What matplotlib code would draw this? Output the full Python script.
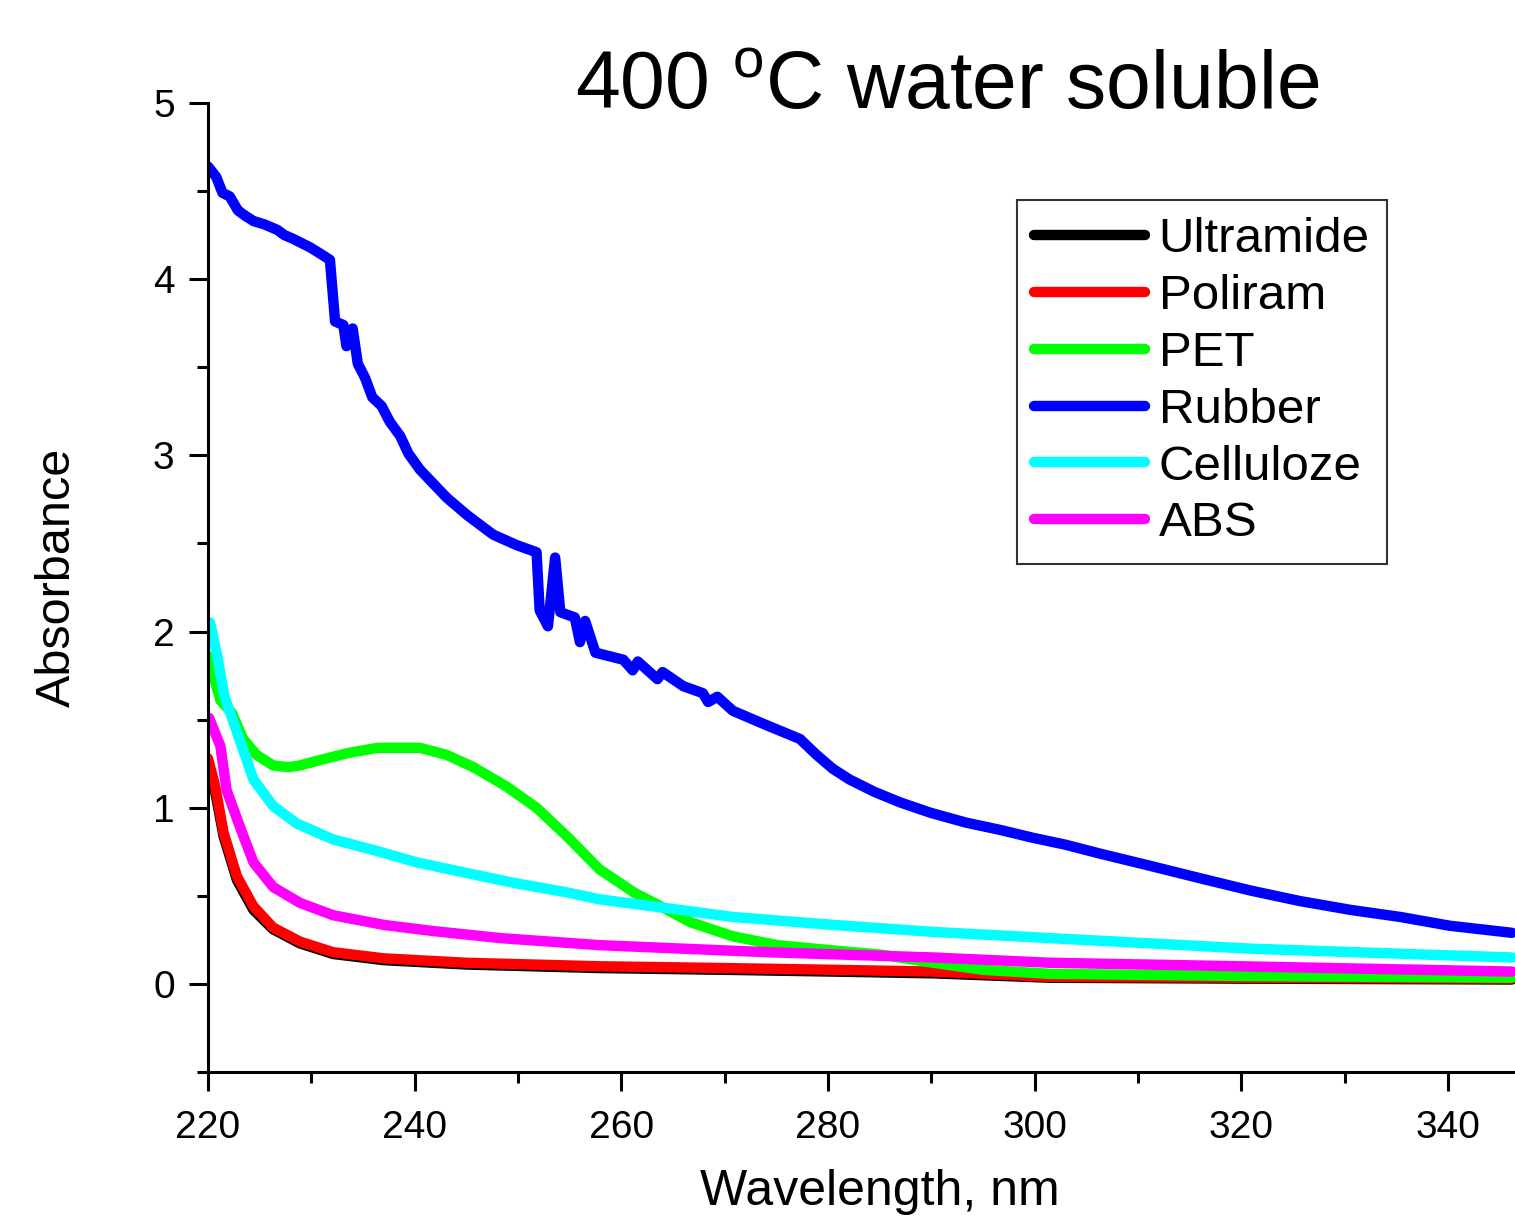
import matplotlib.pyplot as plt
from matplotlib.ticker import MultipleLocator

plt.rcParams['font.family'] = ['Liberation Sans', 'DejaVu Sans']

# ---- data ----
labels = ['Ultramide', 'Poliram', 'PET', 'Rubber', 'Celluloze', 'ABS']
colors = ['#000000', '#ff0000', '#00ff00', '#0000ff', '#00ffff', '#ff00ff']

wl_ultramide = [220.0, 220.7, 221.5, 222.8, 224.4, 226.3, 228.9, 232.1, 237.0, 245.0, 257.9, 270.0, 280.5, 290.2, 301.5, 320.0, 346.2]
ab_ultramide = [1.24, 1.09, 0.84, 0.59, 0.42, 0.31, 0.23, 0.17, 0.135, 0.11, 0.09, 0.08, 0.07, 0.06, 0.035, 0.03, 0.025]

wl_poliram = [220.0, 220.7, 221.5, 222.8, 224.4, 226.3, 228.9, 232.1, 237.0, 245.0, 257.9, 270.0, 280.5, 290.2, 301.5, 320.0, 346.2]
ab_poliram = [1.28, 1.12, 0.86, 0.61, 0.44, 0.32, 0.24, 0.18, 0.145, 0.12, 0.10, 0.09, 0.08, 0.07, 0.04, 0.035, 0.03]

wl_pet = [220.0, 221.2, 222.3, 223.4, 224.7, 226.3, 227.8, 228.9, 230.8, 233.5, 236.4, 238.6, 240.5, 243.1,
          245.7, 248.9, 251.8, 254.7, 257.9, 261.2, 263.5, 266.7, 270.8, 275.1, 280.5, 285.3, 290.2, 295.0,
          301.5, 320.0, 346.2]
ab_pet = [1.86, 1.61, 1.54, 1.39, 1.30, 1.24, 1.23, 1.24, 1.27, 1.31, 1.34, 1.34, 1.34, 1.30,
          1.23, 1.12, 1.00, 0.84, 0.65, 0.52, 0.45, 0.35, 0.27, 0.22, 0.19, 0.165, 0.12, 0.08,
          0.057, 0.045, 0.035]

wl_rubber = [220.0, 220.8, 221.4, 222.1, 222.9, 223.6, 224.4, 225.5, 226.7, 227.4, 228.2, 229.9, 231.0, 231.8,
             232.3, 233.1, 233.4, 234.0, 234.5, 235.2, 235.9, 236.8, 237.6, 238.6, 239.4, 240.5, 241.8, 243.1,
             245.1, 247.6, 249.9, 251.8, 252.1, 252.9, 253.6, 254.1, 255.5, 256.0, 256.5, 257.5, 260.2, 261.1,
             261.6, 263.5, 264.0, 266.0, 267.9, 268.4, 269.3, 270.8, 274.0, 277.3, 278.9, 280.5, 282.1, 284.5,
             287.0, 290.0, 293.4, 296.6, 299.8, 303.0, 306.3, 311.2, 316.0, 320.9, 325.7, 330.6, 335.4, 340.2, 346.2]
ab_rubber = [4.64, 4.58, 4.49, 4.47, 4.39, 4.36, 4.33, 4.31, 4.28, 4.25, 4.23, 4.18, 4.14, 4.11,
             3.76, 3.74, 3.62, 3.72, 3.52, 3.44, 3.33, 3.28, 3.19, 3.11, 3.01, 2.92, 2.84, 2.76,
             2.66, 2.55, 2.49, 2.45, 2.12, 2.03, 2.42, 2.11, 2.08, 1.94, 2.06, 1.88, 1.84, 1.78,
             1.83, 1.73, 1.77, 1.69, 1.65, 1.60, 1.63, 1.55, 1.47, 1.39, 1.30, 1.22, 1.16, 1.09,
             1.03, 0.97, 0.915, 0.875, 0.83, 0.79, 0.74, 0.67, 0.60, 0.53, 0.47, 0.42, 0.38, 0.33, 0.29]

wl_cellul = [220.2, 220.9, 221.6, 222.8, 224.4, 226.3, 228.6, 232.1, 236.0, 240.2, 245.0, 249.9, 254.7, 257.9,
             264.4, 270.8, 280.5, 290.2, 301.5, 320.9, 346.2]
ab_cellul = [2.05, 1.86, 1.63, 1.43, 1.16, 1.01, 0.91, 0.82, 0.76, 0.69, 0.63, 0.57, 0.52, 0.48,
             0.43, 0.38, 0.335, 0.295, 0.26, 0.20, 0.15]

wl_abs = [220.1, 221.2, 221.8, 223.1, 224.4, 226.3, 228.9, 232.1, 237.0, 241.8, 248.3, 257.9, 274.1, 290.2,
          301.5, 320.0, 346.2]
ab_abs = [1.51, 1.35, 1.10, 0.89, 0.69, 0.55, 0.46, 0.39, 0.335, 0.30, 0.26, 0.22, 0.18, 0.15,
          0.12, 0.10, 0.07]

series = [(wl_ultramide, ab_ultramide), (wl_poliram, ab_poliram), (wl_pet, ab_pet),
          (wl_rubber, ab_rubber), (wl_cellul, ab_cellul), (wl_abs, ab_abs)]

fig = plt.figure(figsize=(15.15, 12.24), dpi=100)
ax = fig.add_axes([208 / 1515, 1 - 1072 / 1224, 1 - 208 / 1515, (1072 - 103) / 1224])

for (x, y), lab, col in zip(series, labels, colors):
    ax.plot(x, y, color=col, lw=7.5, label=lab, solid_capstyle='round', solid_joinstyle='round')

ax.set_xlim(220, 346.5)
ax.set_ylim(-0.5, 5)
ax.xaxis.set_major_locator(MultipleLocator(20))
ax.xaxis.set_minor_locator(MultipleLocator(10))
ax.yaxis.set_major_locator(MultipleLocator(1))
ax.yaxis.set_minor_locator(MultipleLocator(0.5))

for s in ['top', 'right']:
    ax.spines[s].set_visible(False)
for s in ['left', 'bottom']:
    ax.spines[s].set_linewidth(2.2)
ax.tick_params(which='major', direction='out', length=14, width=2.2, labelsize=28)
ax.tick_params(axis='x', which='major', pad=13)
ax.tick_params(axis='y', which='major', pad=10)
ax.tick_params(which='minor', direction='out', length=8, width=2.2)

ax.set_xlabel('Wavelength, nm', fontsize=36)
ax.xaxis.set_label_coords(0.514, -0.1)
ax.set_ylabel('Absorbance', fontsize=35)
ax.yaxis.set_label_coords(-0.098, 0.51)

fig.text(947 / 1515, 1 - 88 / 1224, r'400 $^{\mathregular{o}}$C water soluble', fontsize=58,
         ha='center', va='center')

leg = fig.legend(loc='upper left', bbox_to_anchor=(1017 / 1515, 1 - 200 / 1224), fontsize=35.5,
                 frameon=True, fancybox=False, borderaxespad=0, borderpad=0.35,
                 handlelength=2.25, handletextpad=0.27, labelspacing=0.24)
leg.get_frame().set_edgecolor('black')
leg.get_frame().set_linewidth(1.5)

fig.savefig('out.png', dpi=100)
